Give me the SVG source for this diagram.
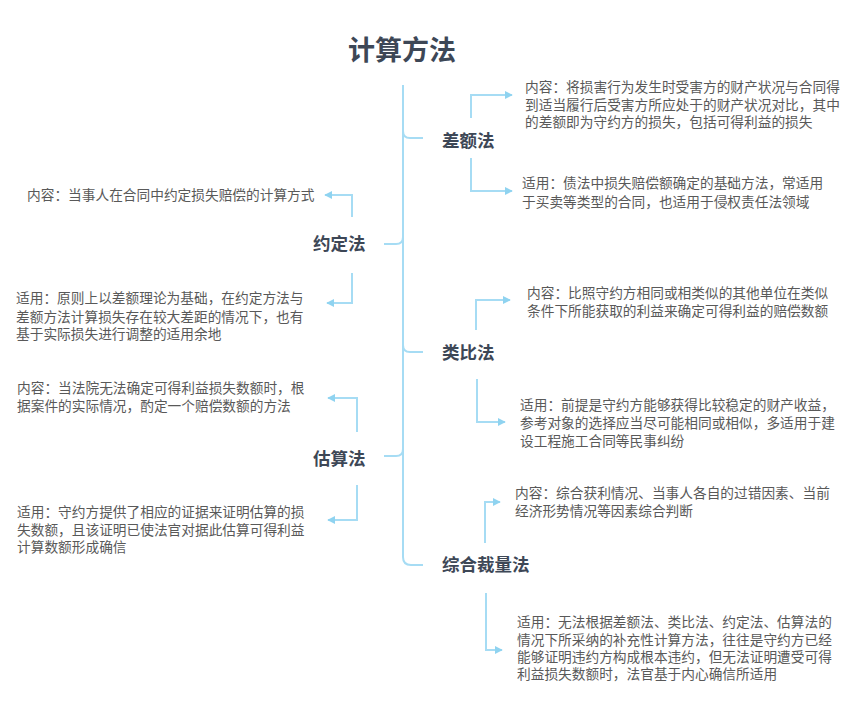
<svg xmlns="http://www.w3.org/2000/svg" width="865" height="707" viewBox="0 0 865 707">
<defs>
<marker id="arr" viewBox="0 0 10 10" refX="9" refY="5" markerWidth="8" markerHeight="8" markerUnits="userSpaceOnUse" orient="auto">
<path d="M0,0 L10,5 L0,10 z" fill="#8fd3f0"/>
</marker>
<style>
.ln{fill:none;stroke:#a6dcf4;stroke-width:2}
.ar{fill:none;stroke:#a6dcf4;stroke-width:2;marker-end:url(#arr)}
.t{font-family:"Liberation Sans","Noto Sans CJK SC",sans-serif;font-size:13.7px;fill:#595959}
.n{font-family:"Liberation Sans","Noto Sans CJK SC",sans-serif;font-size:17.5px;font-weight:bold;fill:#3d4756}
.title{font-family:"Liberation Sans","Noto Sans CJK SC",sans-serif;font-size:27px;font-weight:bold;fill:#3d4756}
</style>
</defs>
<rect width="865" height="707" fill="#ffffff"/>
<g id="connectors">
<path class="ln" d="M403,85 V557 Q403,565 411,565 H423"/>
<path class="ln" d="M403,131 Q403,138 410,138 H423"/>
<path class="ln" d="M384,244 H396 Q403,244 403,237"/>
<path class="ln" d="M403,345 Q403,352 410,352 H423"/>
<path class="ln" d="M384,456 H396 Q403,456 403,449"/>
<path class="ar" d="M471,118 V95 H512"/>
<path class="ar" d="M471,158 V191 H512"/>
<path class="ar" d="M352,217 V195 H325"/>
<path class="ar" d="M352,273 V303 H327"/>
<path class="ar" d="M476,330 V300 H510"/>
<path class="ar" d="M477,379 V422 H505"/>
<path class="ar" d="M357,432 V398 H328"/>
<path class="ar" d="M357,485 V520 H328"/>
<path class="ar" d="M485,543 V502 H500"/>
<path class="ar" d="M486,593 V650 H502"/>
</g>
<g id="title"><text class="title" x="348" y="60">计算方法</text></g>
<g id="n-chae">
<text class="n" x="442" y="146.5">差额法</text>
<text class="t" x="525" y="92">内容：将损害行为发生时受害方的财产状况与合同得</text>
<text class="t" x="525" y="110">到适当履行后受害方所应处于的财产状况对比，其中</text>
<text class="t" x="525" y="127">的差额即为守约方的损失，包括可得利益的损失</text>
<text class="t" x="522" y="188">适用：债法中损失赔偿额确定的基础方法，常适用</text>
<text class="t" x="522" y="207">于买卖等类型的合同，也适用于侵权责任法领域</text>
</g>
<g id="n-yueding">
<text class="n" x="313" y="249.5">约定法</text>
<text class="t" x="27" y="200">内容：当事人在合同中约定损失赔偿的计算方式</text>
<text class="t" x="16" y="303">适用：原则上以差额理论为基础，在约定方法与</text>
<text class="t" x="16" y="322">差额方法计算损失存在较大差距的情况下，也有</text>
<text class="t" x="16" y="339">基于实际损失进行调整的适用余地</text>
</g>
<g id="n-leibi">
<text class="n" x="442" y="358.5">类比法</text>
<text class="t" x="527" y="298">内容：比照守约方相同或相类似的其他单位在类似</text>
<text class="t" x="527" y="316">条件下所能获取的利益来确定可得利益的赔偿数额</text>
<text class="t" x="520" y="410">适用：前提是守约方能够获得比较稳定的财产收益，</text>
<text class="t" x="520" y="428">参考对象的选择应当尽可能相同或相似，多适用于建</text>
<text class="t" x="520" y="446">设工程施工合同等民事纠纷</text>
</g>
<g id="n-gusuan">
<text class="n" x="313" y="464.5">估算法</text>
<text class="t" x="17" y="393">内容：当法院无法确定可得利益损失数额时，根</text>
<text class="t" x="17" y="411">据案件的实际情况，酌定一个赔偿数额的方法</text>
<text class="t" x="17" y="517">适用：守约方提供了相应的证据来证明估算的损</text>
<text class="t" x="17" y="535">失数额，且该证明已使法官对据此估算可得利益</text>
<text class="t" x="17" y="552">计算数额形成确信</text>
</g>
<g id="n-zonghe">
<text class="n" x="442" y="570.5">综合裁量法</text>
<text class="t" x="515" y="498">内容：综合获利情况、当事人各自的过错因素、当前</text>
<text class="t" x="515" y="516">经济形势情况等因素综合判断</text>
<text class="t" x="517" y="627">适用：无法根据差额法、类比法、约定法、估算法的</text>
<text class="t" x="517" y="645">情况下所采纳的补充性计算方法，往往是守约方已经</text>
<text class="t" x="517" y="662">能够证明违约方构成根本违约，但无法证明遭受可得</text>
<text class="t" x="517" y="679">利益损失数额时，法官基于内心确信所适用</text>
</g>
</svg>
